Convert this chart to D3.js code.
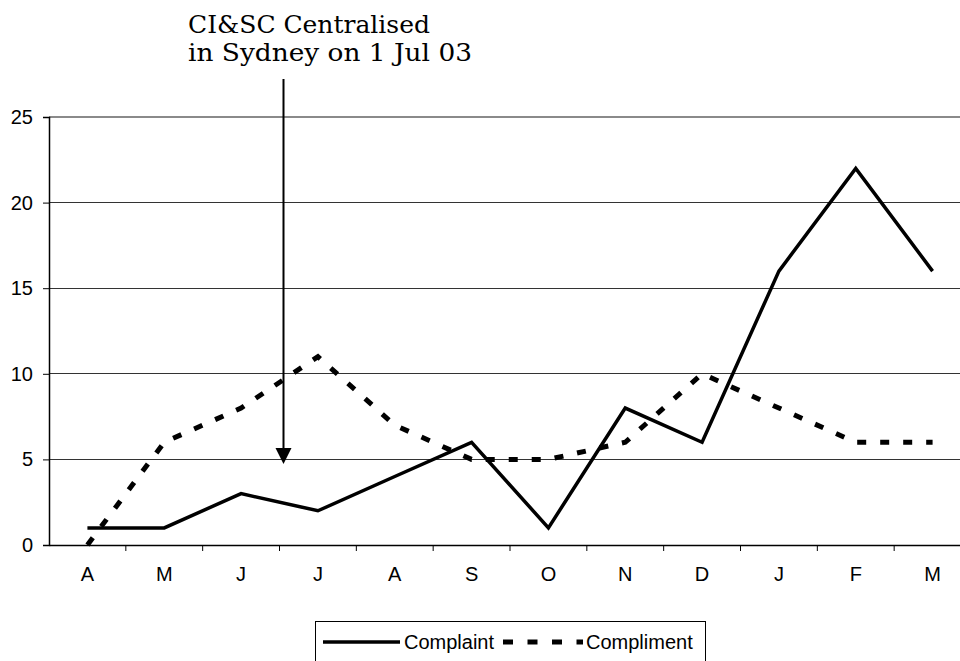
<!DOCTYPE html>
<html><head><meta charset="utf-8">
<script src="https://cdn.jsdelivr.net/npm/d3@7"></script>
<style>html,body{margin:0;padding:0;background:#fff;overflow:hidden}</style>
</head><body>
<svg id="c" width="960" height="661"></svg>
<script>
const categories = ["A","M","J","J","A","S","O","N","D","J","F","M"];
const complaint = [1,1,3,2,4,6,1,8,6,16,22,16];
const compliment = [0,6,8,11,7,5,5,6,10,8,6,6];
const yTicks = [0,5,10,15,20,25];
const seriesNames = ["Complaint","Compliment"];
const annotation = ["CI&SC Centralised","in Sydney on 1 Jul 03"];

(function(){
const svg = d3.select("#c");
const pL = 49, pR = 971, pT = 117, pB = 545;
const x = d3.scaleBand().domain(d3.range(categories.length)).range([pL, pR]).padding(0);
const y = d3.scaleLinear().domain([0,25]).range([pB, pT]);
const cx = i => x(i) + x.bandwidth()/2;

// gridlines
svg.append("g").selectAll("line").data(yTicks.filter(d=>d>0 && d<25)).join("line")
  .attr("x1", pL).attr("x2", pR).attr("y1", d=>y(d)).attr("y2", d=>y(d))
  .attr("stroke", "#333").attr("stroke-width", 1).attr("shape-rendering","crispEdges");
svg.append("line").attr("x1", pL).attr("x2", pR).attr("y1", y(25)).attr("y2", y(25))
  .attr("stroke", "#8a8a8a").attr("stroke-width", 2);

// y axis
const yAxis = d3.axisLeft(y).tickValues(yTicks).tickSize(6).tickPadding(10);
const gy = svg.append("g").attr("transform", `translate(${pL},0)`).call(yAxis);
gy.select(".domain").attr("stroke","#000").attr("stroke-width",1.5);
gy.selectAll(".tick line").attr("stroke","#000");
gy.selectAll("text").attr("font-family","'Liberation Sans', Arial, sans-serif").attr("font-size",20).attr("fill","#000");

// x axis
const xAxis = d3.axisBottom(x).tickSize(0).tickFormat(i => categories[i]).tickPadding(22);
const gx = svg.append("g").attr("transform", `translate(0,${pB})`).call(xAxis);
gx.select(".domain").attr("stroke","#000").attr("stroke-width",1.5);
gx.selectAll("text").attr("font-family","'Liberation Sans', Arial, sans-serif").attr("font-size",20).attr("fill","#000");
svg.append("g").selectAll("line").data(d3.range(1, categories.length)).join("line")
  .attr("x1", i=>x(i)).attr("x2", i=>x(i)).attr("y1", pB).attr("y2", pB+6)
  .attr("stroke","#000").attr("stroke-width",1);

// lines
const line = d3.line().x((d,i)=>cx(i)).y(d=>y(d));
svg.append("path").datum(compliment).attr("d", line).attr("fill","none")
  .attr("stroke","#000").attr("stroke-width",5).attr("stroke-dasharray","9,14");
svg.append("path").datum(complaint).attr("d", line).attr("fill","none")
  .attr("stroke","#000").attr("stroke-width",3.5).attr("stroke-linejoin","miter");

// annotation arrow
const ax = x(3) + 4;
svg.append("line").attr("x1", ax).attr("x2", ax).attr("y1", 79).attr("y2", 450)
  .attr("stroke","#000").attr("stroke-width",2);
svg.append("path").attr("d", `M${ax-8},448 L${ax+8},448 L${ax},464 Z`).attr("fill","#000");
const t = svg.append("text").attr("font-family","'DejaVu Serif', serif").attr("font-size",25).attr("fill","#000");
t.append("tspan").attr("x",188).attr("y",33).attr("textLength",242).attr("lengthAdjust","spacingAndGlyphs").text(annotation[0]);
t.append("tspan").attr("x",188).attr("y",61).attr("textLength",284).attr("lengthAdjust","spacingAndGlyphs").text(annotation[1]);

// legend
const lg = svg.append("g");
lg.append("rect").attr("x",315.5).attr("y",621.5).attr("width",390).attr("height",60)
  .attr("fill","#fff").attr("stroke","#000").attr("stroke-width",1);
lg.append("line").attr("x1",323).attr("x2",400).attr("y1",642).attr("y2",642)
  .attr("stroke","#000").attr("stroke-width",3.5);
lg.append("text").attr("x",404).attr("y",649).attr("font-family","'Liberation Sans', Arial, sans-serif")
  .attr("font-size",20).text(seriesNames[0]);
lg.append("line").attr("x1",503).attr("x2",583).attr("y1",642).attr("y2",642)
  .attr("stroke","#000").attr("stroke-width",5).attr("stroke-dasharray","10,14.5");
lg.append("text").attr("x",586).attr("y",649).attr("font-family","'Liberation Sans', Arial, sans-serif")
  .attr("font-size",20).text(seriesNames[1]);
})();
</script>
</body></html>
